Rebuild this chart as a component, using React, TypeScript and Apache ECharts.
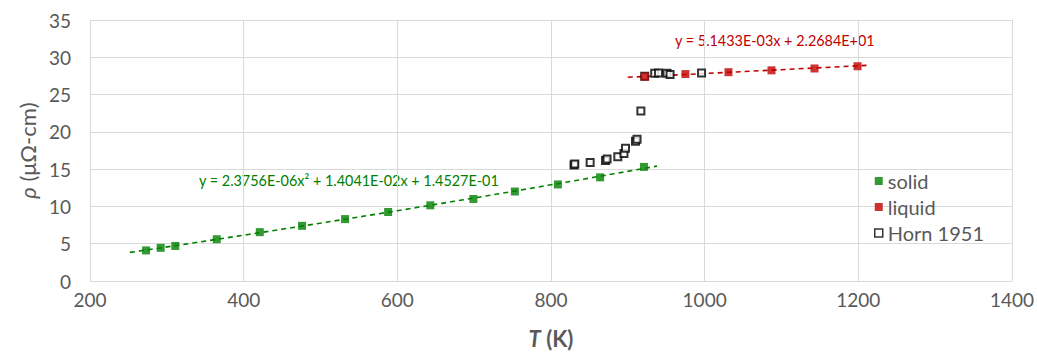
import React, { useEffect, useRef } from "react";
import * as echarts from "echarts";

const solidT = [273, 292, 311, 365, 421, 476, 532, 588, 643, 699, 753, 809, 864, 921];
const solidRho = [4.1, 4.45, 4.7, 5.6, 6.55, 7.4, 8.3, 9.25, 10.15, 11.0, 12.0, 12.95, 13.9, 15.3];

const liquidT = [922, 975, 1031, 1087, 1143, 1199];
const liquidRho = [27.4, 27.75, 28.0, 28.25, 28.5, 28.8];

const hornT = [830, 831, 851, 871, 873, 887, 895, 897, 910, 912, 917, 922, 935, 940, 951, 955, 996];
const hornRho = [15.55, 15.7, 15.9, 16.15, 16.35, 16.65, 17.1, 17.8, 18.75, 19.0, 22.8, 27.45, 27.85, 27.9, 27.85, 27.7, 27.9];

// Displayed trendline equations
const solidCoef = [2.3756e-6, 1.4041e-2, 1.4527e-1];
const liquidCoef = [5.1433e-3, 2.2684e1];
const solidFitRange = [252, 938];
const liquidFitRange = [900, 1214];

const xTicks = { min: 200, max: 1400, interval: 200 };
const yTicks = { min: 0, max: 35, interval: 5 };

const solidEq = "y = 2.3756E-06x² + 1.4041E-02x + 1.4527E-01";
const liquidEq = "y = 5.1433E-03x + 2.2684E+01";

function buildSolidFit() {
  const pts: number[][] = [];
  const [a, b, c] = solidCoef;
  for (let t = solidFitRange[0]; t <= solidFitRange[1]; t += 14) {
    pts.push([t, a * t * t + b * t + c]);
  }
  const t = solidFitRange[1];
  pts.push([t, a * t * t + b * t + c]);
  return pts;
}
function buildLiquidFit() {
  const [m, k] = liquidCoef;
  return liquidFitRange.map((t) => [t, m * t + k]);
}

const FONT = "Lato, 'Open Sans', sans-serif";
const GREY = "#595959";

export default function App() {
  const ref = useRef<HTMLDivElement>(null);
  useEffect(() => {
    if (!ref.current) return;
    const chart = echarts.init(ref.current, undefined, { renderer: "svg" });
    chart.setOption({
      animation: false,
      textStyle: { fontFamily: FONT },
      grid: { left: 90, right: 21, top: 20, bottom: 72 },
      xAxis: {
        type: "value",
        min: xTicks.min,
        max: xTicks.max,
        interval: xTicks.interval,
        axisLine: { show: false },
        axisTick: { show: false },
        splitLine: { show: true, lineStyle: { color: "#d9d9d9", width: 1 } },
        axisLabel: { color: GREY, fontSize: 19, margin: 9, fontFamily: FONT, formatter: (v: number) => String(v) },
        name: "{i|T} (K)",
        nameLocation: "middle",
        nameGap: 46,
        nameTextStyle: {
          color: GREY,
          fontSize: 22,
          fontWeight: "bold",
          fontFamily: FONT,
          rich: { i: { fontStyle: "italic", fontWeight: "bold", fontSize: 22, color: GREY, fontFamily: FONT } },
        },
      },
      yAxis: {
        type: "value",
        min: yTicks.min,
        max: yTicks.max,
        interval: yTicks.interval,
        axisLine: { show: false },
        axisTick: { show: false },
        splitLine: { show: true, lineStyle: { color: "#d9d9d9", width: 1 } },
        axisLabel: { color: GREY, fontSize: 19, margin: 19, fontFamily: FONT },
        name: "{i|ρ} (μΩ-cm)",
        nameLocation: "middle",
        nameGap: 51,
        nameTextStyle: {
          color: GREY,
          fontSize: 22,
          fontFamily: FONT,
          rich: { i: { fontStyle: "italic", fontSize: 22, color: GREY, fontFamily: FONT } },
        },
      },
      legend: {
        orient: "vertical",
        left: 869,
        top: 166,
        itemWidth: 8,
        itemHeight: 8,
        itemGap: 6,
        icon: "rect",
        data: [
          { name: "solid" },
          { name: "liquid" },
          { name: "Horn 1951", itemStyle: { borderWidth: 1.5 } },
        ],
        textStyle: { color: GREY, fontSize: 20, fontFamily: FONT },
      },
      series: [
        {
          name: "solidFit",
          type: "line",
          data: buildSolidFit(),
          showSymbol: false,
          symbol: "none",
          smooth: false,
          lineStyle: { color: "#008000", width: 1.6, type: [5, 4] },
          z: 2,
          silent: true,
        },
        {
          name: "liquidFit",
          type: "line",
          data: buildLiquidFit(),
          symbol: "none",
          lineStyle: { color: "#c00000", width: 1.6, type: [5, 4] },
          z: 2,
          silent: true,
        },
        {
          name: "solid",
          type: "scatter",
          data: solidT.map((t, i) => [t, solidRho[i]]),
          symbol: "rect",
          symbolSize: 8,
          itemStyle: { color: "#008000" },
          z: 3,
        },
        {
          name: "Horn 1951",
          type: "scatter",
          data: hornT.map((t, i) => [t, hornRho[i]]),
          symbol: "rect",
          symbolSize: 7,
          itemStyle: { color: "#ffffff", borderColor: "#000000", borderWidth: 2 },
          z: 3,
        },
        {
          name: "liquid",
          type: "scatter",
          data: liquidT.map((t, i) => [t, liquidRho[i]]),
          symbol: "rect",
          symbolSize: 8,
          itemStyle: { color: "#c00000" },
          z: 4,
        },
      ],
      graphic: [
        {
          type: "text",
          left: 199,
          top: 173,
          style: { text: solidEq, fill: "#008000", fontSize: 14.4, fontFamily: FONT },
        },
        {
          type: "text",
          left: 675,
          top: 33,
          style: { text: liquidEq, fill: "#c00000", fontSize: 14.4, fontFamily: FONT },
        },
      ],
    });
    return () => chart.dispose();
  }, []);
  return (
    <div
      ref={ref}
      style={{ position: "fixed", left: 0, top: 0, width: 1037, height: 354, background: "#fff" }}
    />
  );
}
